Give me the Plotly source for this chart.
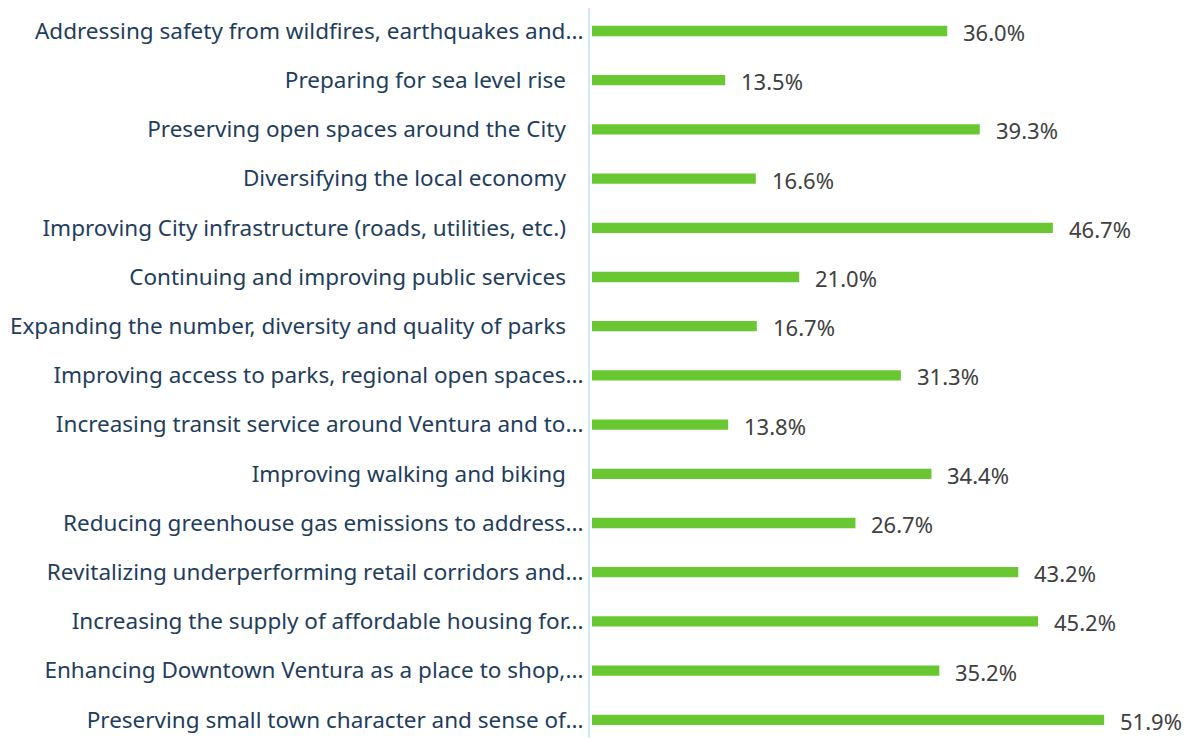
import plotly.graph_objects as go

categories = [
    "Addressing safety from wildfires, earthquakes and...",
    "Preparing for sea level rise ",
    "Preserving open spaces around the City ",
    "Diversifying the local economy ",
    "Improving City infrastructure (roads, utilities, etc.) ",
    "Continuing and improving public services ",
    "Expanding the number, diversity and quality of parks ",
    "Improving access to parks, regional open spaces...",
    "Increasing transit service around Ventura and to...",
    "Improving walking and biking ",
    "Reducing greenhouse gas emissions to address...",
    "Revitalizing underperforming retail corridors and...",
    "Increasing the supply of affordable housing for...",
    "Enhancing Downtown Ventura as a place to shop,...",
    "Preserving small town character and sense of...",
]
values = [36.0, 13.5, 39.3, 16.6, 46.7, 21.0, 16.7, 31.3, 13.8, 34.4, 26.7, 43.2, 45.2, 35.2, 51.9]

labels = [c.replace(" ", "\u00a0") + ("\u00a0\u00a0" if c.endswith(" ") else "") for c in categories]

fig = go.Figure()
fig.add_trace(go.Bar(
    x=values, y=labels, orientation="h",
    marker=dict(color="#69C832", line=dict(width=0)),
    width=0.21, hoverinfo="skip",
))
for lab, v in zip(labels, values):
    fig.add_annotation(x=v, y=lab, text=f"{v:.1f}%", showarrow=False,
                       xanchor="left", xshift=14, yshift=-1,
                       font=dict(family="Noto Sans", size=22, color="#404040"))

fig.update_layout(
    width=1182, height=730,
    margin=dict(l=582, r=0, t=0, b=0),
    paper_bgcolor="white", plot_bgcolor="white",
    showlegend=False,
    font=dict(family="Noto Sans", size=22, color="#1F3D5C"),
)
fig.update_xaxes(range=[-0.2, 60.6], visible=False, automargin=False)
fig.update_yaxes(
    categoryorder="array", categoryarray=labels,
    range=[14.37, -0.4675], automargin=False,
    showline=True, linecolor="#D0E7F8", linewidth=2,
    ticks="", showgrid=False, zeroline=False,
    ticklabelstandoff=0,
    tickfont=dict(family="Noto Sans", size=22.5, color="#1F3D5C"),
)
fig.write_html("out.html")
